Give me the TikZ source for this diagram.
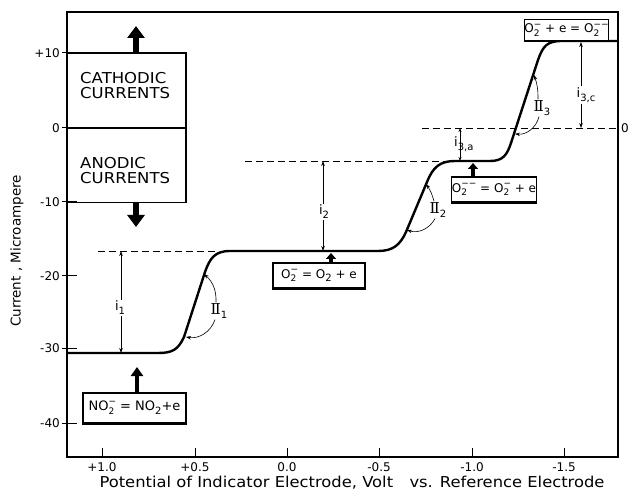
\documentclass[tikz,border=0pt]{standalone}
\usepackage{fontspec}
\setmainfont{DejaVu Sans}
\newfontfamily\romfont{DejaVu Serif}
\usetikzlibrary{arrows.meta}
\newcommand{\lowsub}[1]{\raisebox{-0.55ex}{\fontsize{10}{10}\selectfont #1}}
\newcommand{\ionsb}[2]{\rlap{\raisebox{-0.55ex}{\fontsize{9}{9}\selectfont #1}}\raisebox{0.85ex}{\fontsize{9}{9}\selectfont #2}}
\newcommand{\romII}{{\romfont\fontsize{15}{15}\selectfont Ⅱ}}
\begin{document}
\begin{tikzpicture}[x=1pt,y=-1pt,
  frame/.style={line width=1.3pt},
  curve/.style={line width=2.4pt, line join=round, line cap=round},
  dashln/.style={line width=0.9pt, dash pattern=on 7pt off 4pt},
  dim/.style={line width=0.6pt, -{Stealth[length=5pt,width=3.5pt]}},
  dimboth/.style={line width=0.6pt, {Stealth[length=4pt,width=3pt]}-{Stealth[length=4pt,width=3pt]}},
  thinarr/.style={line width=0.6pt, -{Stealth[length=5pt,width=3.5pt]}},
  bigarr/.style={line width=6pt, -{Triangle[length=12pt,width=17pt]}},
  smarr/.style={line width=4.5pt, -{Triangle[length=9pt,width=12pt]}},
  tinyarr/.style={line width=4pt, -{Triangle[length=6pt,width=10pt]}},
  rxn/.style={draw, line width=1.1pt, fill=white, inner sep=0pt, font=\fontsize{12}{14}\selectfont},
  tick/.style={line width=1pt},
  ticklbl/.style={font=\fontsize{12}{14}\selectfont, inner sep=0pt},
  dimlbl/.style={font=\fontsize{13}{14}\selectfont, inner sep=1pt},
  iilbl/.style={font=\fontsize{13}{14}\selectfont, inner sep=1pt},
  sidebox/.style={draw, line width=1.1pt, minimum width=119pt, minimum height=75pt, inner sep=0pt},
  sidetxt/.style={font=\fontsize{15}{15}\selectfont, align=left, anchor=west, inner sep=0pt, xscale=1.1}
]
\useasboundingbox (0,0) rectangle (630,492);

% frame
\draw[frame] (67,12) rectangle (618,457);

% y ticks and labels
\foreach \yy/\lab/\nm in {53/+10/ya,128/0/yb,202/-10/yc,276/-20/yd,348/-30/ye,423/-40/yf}{
  \draw[tick] (62,\yy) -- (77,\yy);
  \node[ticklbl, anchor=east] (\nm) at (60,\yy) {\lab};
}
% x ticks and labels
\foreach \xx/\lab/\nm in {102/+1.0/xa,195/+0.5/xb,287/0.0/xc,379/-0.5/xd,472/-1.0/xe,564/-1.5/xf}{
  \draw[tick] (\xx,448) -- (\xx,457);
  \node[ticklbl] (\nm) at (\xx,467) {\lab};
}

% axis titles
\node[font=\fontsize{15}{16}\selectfont, inner sep=0pt, xscale=1.09] (xtitle) at (352,483) {Potential of Indicator Electrode, Volt\quad vs. Reference Electrode};
\node[font=\fontsize{13.5}{14}\selectfont, inner sep=0pt, rotate=90] (ytitle) at (17,251) {Current , Microampere};

% cathodic / anodic boxes
\node[sidebox] (cath) at (126.5,90.5) {};
\node[sidebox] (anod) at (126.5,165) {};
\node[sidetxt] (cathtxt) at (80,86) {CATHODIC\\CURRENTS};
\node[sidetxt] (anodtxt) at (80,171) {ANODIC\\CURRENTS};
\coordinate (upTip) at (136,26);
\coordinate (dnTip) at (136,227);
\draw[bigarr] (cath.north -| upTip) -- (upTip);
\draw[bigarr] (anod.south -| dnTip) -- (dnTip);

% dashed levels
\coordinate (dB0) at (98,251);  \coordinate (dB1) at (215,251);
\coordinate (dC0) at (245,161); \coordinate (dC1) at (445,161);
\coordinate (dZ0) at (422,128); \coordinate (dZ1) at (618,128);
\draw[dashln] (dB0) -- (dB1);
\draw[dashln] (dC0) -- (dC1);
\draw[dashln] (dZ0) -- (dZ1);
\node[ticklbl, anchor=west] (zeroR) at (621,128) {0};

% polarogram
\draw[curve] (68,353) -- (158,353) .. controls (172,353) and (178,350) .. (184,337)
  -- (205,272) .. controls (210,258) and (215,251) .. (230,251)
  -- (378,251) .. controls (393,251) and (400,245) .. (406,232)
  -- (427,182) .. controls (433,167) and (440,161) .. (455,161)
  -- (490,161) .. controls (503,161) and (507,155) .. (511,143)
  -- (538,60) .. controls (543,46) and (547,41) .. (562,41)
  -- (618,41);

% dimension arrows
\coordinate (i1t) at (121,251); \coordinate (i1b) at (121,353);
\node[dimlbl] (i1) at (120,308) {i\lowsub{1}};
\draw[dim] (i1.north -| i1t) -- (i1t);
\draw[dim] (i1.south -| i1b) -- (i1b);

\coordinate (i2t) at (323,161); \coordinate (i2b) at (323,251);
\node[dimlbl] (i2) at (324,212) {i\lowsub{2}};
\draw[dim] (i2.north -| i2t) -- (i2t);
\draw[dim] (i2.south -| i2b) -- (i2b);

\coordinate (i3at) at (460,128); \coordinate (i3ab) at (460,161);
\draw[dimboth] (i3at) -- (i3ab);
\node[dimlbl, anchor=west] (i3a) at (453,144) {i\lowsub{3,a}};

\coordinate (i3ct) at (581,42); \coordinate (i3cb) at (581,128);
\node[dimlbl] (i3c) at (586,95) {i\lowsub{3,c}};
\draw[dim] (i3c.north -| i3ct) -- (i3ct);
\draw[dim] (i3c.south -| i3cb) -- (i3cb);

% half-wave markers
\coordinate (c1u) at (204,274); \coordinate (c1l) at (186,337);
\coordinate (c2u) at (426,184); \coordinate (c2l) at (407,230);
\coordinate (c3u) at (534,75);  \coordinate (c3l) at (515,134);
\node[iilbl] (II1) at (219,311) {\romII\lowsub{1}};
\node[iilbl] (II2) at (438,210) {\romII\lowsub{2}};
\node[iilbl] (II3) at (542,108) {\romII\lowsub{3}};
\draw[thinarr] ([xshift=-3pt]II1.north) to[bend right=25] (c1u);
\draw[thinarr] ([xshift=-4pt]II1.south) to[bend left=40] (c1l);
\draw[thinarr] ([xshift=-4pt]II2.north) to[bend right=10] (c2u);
\draw[thinarr] ([xshift=-3pt]II2.south) to[bend left=40] (c2l);
\draw[thinarr] ([xshift=-4pt]II3.north) to[bend right=10] (c3u);
\draw[thinarr] ([xshift=-3pt]II3.south) to[bend left=40] (c3l);

% reaction boxes
\node[rxn, minimum width=83pt, minimum height=21pt] (r4) at (566.5,30) {O\ionsb{2}{−} + e = O\ionsb{2}{−−}};
\node[rxn, minimum width=80pt, minimum height=25pt] (r3) at (494,189.5) {O\ionsb{2}{−−} = O\ionsb{2}{−} + e};
\node[rxn, minimum width=92pt, minimum height=25pt] (r2) at (319,275.5) {O\ionsb{2}{−} = O\lowsub{2} + e};
\node[rxn, minimum width=103pt, minimum height=30pt, font=\fontsize{13}{14}\selectfont] (r1) at (134.5,408) {NO\ionsb{2}{−} = NO\lowsub{2}+e};
\foreach \b in {r1,r2,r3,r4}{\draw[line width=2.2pt] (\b.south west) -- (\b.south east);}

\coordinate (a1) at (137,367);
\coordinate (a2) at (331,253);
\coordinate (a3) at (473,163);
\draw[smarr] (r1.north -| a1) -- (a1);
\draw[tinyarr] (r2.north -| a2) -- (a2);
\draw[tinyarr] (r3.north -| a3) -- (a3);
\end{tikzpicture}
\end{document}
